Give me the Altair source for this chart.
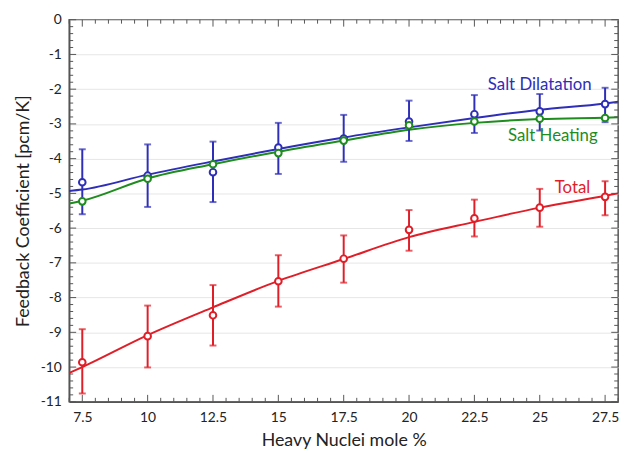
import altair as alt
import pandas as pd

# ---- data ----
x_pts = [7.5, 10, 12.5, 15, 17.5, 20, 22.5, 25, 27.5]

dil_y = [-4.68, -4.49, -4.39, -3.68, -3.42, -2.93, -2.72, -2.64, -2.43]
dil_hi = [-3.73, -3.59, -3.51, -2.97, -2.74, -2.33, -2.17, -2.14, -1.96]
dil_lo = [-5.60, -5.39, -5.25, -4.44, -4.09, -3.49, -3.26, -3.19, -2.95]

heat_y = [-5.23, -4.58, -4.16, -3.84, -3.48, -3.04, -2.93, -2.85, -2.83]

tot_y = [-9.86, -9.11, -8.51, -7.53, -6.88, -6.05, -5.72, -5.41, -5.10]
tot_hi = [-8.91, -8.23, -7.64, -6.78, -6.21, -5.48, -5.18, -4.87, -4.65]
tot_lo = [-10.76, -10.01, -9.38, -8.26, -7.57, -6.65, -6.24, -5.96, -5.63]

x_fit = [7, 7.5, 10, 12.5, 15, 17.5, 20, 22.5, 25, 27.5, 28]
dil_fit = [-4.93, -4.89, -4.46, -4.08, -3.72, -3.39, -3.10, -2.83, -2.59, -2.41, -2.36]
heat_fit = [-5.29, -5.21, -4.57, -4.16, -3.80, -3.48, -3.17, -2.97, -2.86, -2.82, -2.81]
tot_fit = [-10.17, -10.00, -9.08, -8.28, -7.52, -6.89, -6.26, -5.82, -5.41, -5.07, -5.00]

series = ["Salt Dilatation", "Salt Heating", "Total"]
colors = ["#2e2eb8", "#1e8c1e", "#e01e28"]

label_x = [25.0, 25.5, 26.25]
label_y = [-1.88, -3.36, -4.86]

x_major = [7.5, 10, 12.5, 15, 17.5, 20, 22.5, 25, 27.5]
x_minor = [v / 2 for v in range(14, 57) if (v / 2) not in x_major]
y_major = [0, -1, -2, -3, -4, -5, -6, -7, -8, -9, -10, -11]
y_minor = [round(-v / 5, 2) for v in range(0, 56) if v % 5 != 0]

W, H = 556, 387
XD = [7, 28]
YD = [-11, 0]

pts = pd.DataFrame({
    "x": x_pts * 3,
    "y": dil_y + heat_y + tot_y,
    "series": [series[0]] * 9 + [series[1]] * 9 + [series[2]] * 9,
})
err = pd.DataFrame({
    "x": x_pts * 2,
    "lo": dil_lo + tot_lo,
    "hi": dil_hi + tot_hi,
    "series": [series[0]] * 9 + [series[2]] * 9,
})
fit = pd.DataFrame({
    "x": x_fit * 3,
    "y": dil_fit + heat_fit + tot_fit,
    "series": [series[0]] * 11 + [series[1]] * 11 + [series[2]] * 11,
})
labels = pd.DataFrame({"x": label_x, "y": label_y, "series": series})

xs = alt.Scale(domain=XD, nice=False, zero=False)
ys = alt.Scale(domain=YD, nice=False, zero=False)
cs = alt.Scale(domain=series, range=colors)

xaxis = alt.Axis(
    values=x_major, labelExpr="'' + datum.value", grid=False, ticks=False,
    title="Heavy Nuclei mole %", labelPadding=9, titleY=44,
    titleBaseline="alphabetic", labelOverlap=False, labelFlush=False,
)
yaxis = alt.Axis(
    values=y_major, labelExpr="'' + datum.value", grid=True, ticks=False,
    title="Feedback Coefficient [pcm/K]", labelPadding=8,
    titleX=-46, titleY=H / 2, titleBaseline="middle",
    labelOverlap=False, labelFlush=False, labelBound=False, tickCount=12,
)


def X(field):
    return alt.X(field, scale=xs, axis=xaxis)


def Y(field):
    return alt.Y(field, scale=ys, axis=yaxis)


col = alt.Color("series:N", scale=cs, legend=None)

lines = alt.Chart(fit).mark_line(strokeWidth=2, interpolate="monotone").encode(
    x=X("x:Q"), y=Y("y:Q"), color=col, detail="series:N",
)

bars = alt.Chart(err).mark_rule(strokeWidth=2).encode(
    x=X("x:Q"), y=Y("lo:Q"), y2="hi:Q", color=col,
)
cap_lo = alt.Chart(err).mark_tick(orient="horizontal", size=7, thickness=2).encode(
    x=X("x:Q"), y=Y("lo:Q"), color=col,
)
cap_hi = alt.Chart(err).mark_tick(orient="horizontal", size=7, thickness=2).encode(
    x=X("x:Q"), y=Y("hi:Q"), color=col,
)

points = alt.Chart(pts).mark_point(
    shape="circle", filled=False, fill="white", fillOpacity=1, size=45, strokeWidth=2
).encode(
    x=X("x:Q"), y=Y("y:Q"), color=col,
)

text = alt.Chart(labels).mark_text(font="Lato", fontSize=17, align="center", baseline="middle").encode(
    x=X("x:Q"), y=Y("y:Q"), text="series:N", color=col,
)

tick_color = "#555555"
xmaj = pd.DataFrame({"x": x_major})
xmin = pd.DataFrame({"x": x_minor})
ymaj = pd.DataFrame({"y": y_major})
ymin = pd.DataFrame({"y": y_minor})


def xticks(df, length):
    bot = alt.Chart(df).mark_rule(color=tick_color, strokeWidth=1).encode(
        x=X("x:Q"), y=alt.value(H), y2=alt.value(H - length))
    top = alt.Chart(df).mark_rule(color=tick_color, strokeWidth=1).encode(
        x=X("x:Q"), y=alt.value(0), y2=alt.value(length))
    return bot + top


def yticks(df, length):
    left = alt.Chart(df).mark_rule(color=tick_color, strokeWidth=1).encode(
        y=Y("y:Q"), x=alt.value(0), x2=alt.value(length))
    right = alt.Chart(df).mark_rule(color=tick_color, strokeWidth=1).encode(
        y=Y("y:Q"), x=alt.value(W), x2=alt.value(W - length))
    return left + right


ticks = xticks(xmaj, 7) + xticks(xmin, 4) + yticks(ymaj, 7) + yticks(ymin, 4)

chart = alt.layer(
    lines, bars, cap_lo, cap_hi, points, text, ticks
).properties(
    width=W, height=H,
    autosize=alt.AutoSizeParams(type="none"),
    padding={"left": 62, "top": 9, "right": 13, "bottom": 49},
).configure_view(
    stroke="#555555", strokeWidth=1.5
).configure_axis(
    labelFont="Lato", labelFontSize=14, labelColor="#222222",
    titleFont="Lato", titleFontSize=18, titleFontWeight="normal", titleColor="#222222",
    domainColor="#555555", domainWidth=1.5,
    gridColor="#e6e6e6", gridWidth=1,
)

chart.save("out.html", embed_options={"renderer": "svg", "actions": False})
